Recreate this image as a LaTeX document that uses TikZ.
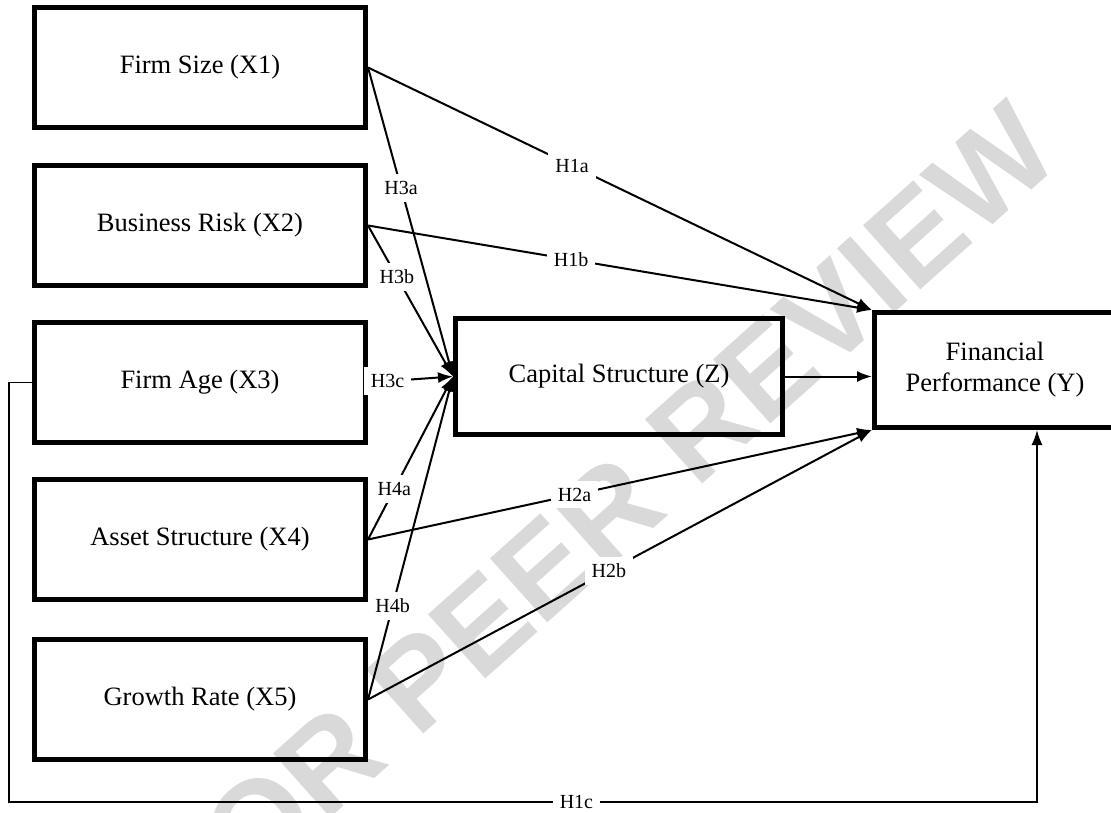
\documentclass[tikz,border=0pt]{standalone}
\usepackage{fontspec}
\setmainfont{Liberation Serif}
\newfontfamily\wmfont{Liberation Sans}
\usetikzlibrary{arrows.meta}
\tikzset{
  var/.style={draw, line width=5pt, minimum width=331pt, minimum height=120pt, inner sep=0pt, font=\fontsize{26.5}{31}\selectfont, align=center},
  hyp/.style={fill=white, inner sep=7pt, font=\fontsize{20}{22}\selectfont},
  link/.style={line width=2pt, -{Latex[length=15pt,width=11pt]}},
}
\begin{document}
\begin{tikzpicture}[x=1pt, y=-1pt]
        \useasboundingbox (0, 0) rectangle (1111, 812);
        % watermark
        \node[rotate=41.8, text=black!15, inner sep=0pt, font=\wmfont\bfseries\fontsize{125}{125}\selectfont] (wm) at (601, 518) {FOR PEER REVIEW};
        % variables
        \node[var] (x1) at (200, 67.5) {Firm Size (X1)};
        \node[var] (x2) at (200, 225.5) {Business Risk (X2)};
        \node[var] (x3) at (200, 382.5) {Firm Age (X3)};
        \node[var] (x4) at (200, 539.5) {Asset Structure (X4)};
        \node[var] (x5) at (200, 699.5) {Growth Rate (X5)};
        \node[var, minimum width=327pt, minimum height=116pt] (z) at (619, 376.5) {Capital Structure (Z)};
        \node[var, minimum width=241pt, minimum height=115pt] (y) at (995, 370) {Financial\\Performance (Y)};
        % direct effects
        \draw[link] (x1.east) -- node[hyp, pos=0.405] {H1a} (y.north west);
        \draw[link] (x2.east) -- node[hyp, pos=0.403] {H1b} (y.north west);
        \draw[link] (x4.east) -- node[hyp, pos=0.41] {H2a} (y.south west);
        \draw[link] (x5.east) -- node[hyp, pos=0.478] {H2b} (y.south west);
        \draw[link] (z.east) -- (z.east -| y.west);
        % effects on capital structure
        \draw[link] (x2.east) -- node[hyp, pos=0.34] {H3b} (z.west);
        \draw[link] (x1.east) -- node[hyp, pos=0.39] {H3a} (z.west);
        \draw[link] (x3.east) -- node[hyp, pos=0.23] {H3c} (z.west);
        \draw[link] (x4.east) -- node[hyp, pos=0.31] {H4a} (z.west);
        \draw[link] (x5.east) -- node[hyp, pos=0.29] {H4b} (z.west);
        % firm age to performance
        \coordinate (h1c) at (1037, 802);
        \draw[link, line width=1.5pt] (x3.west) -- ++(-23, 0) |- node[hyp, pos=0.776] {H1c} (h1c) -- (h1c |- y.south);
    \end{tikzpicture}
\end{document}
